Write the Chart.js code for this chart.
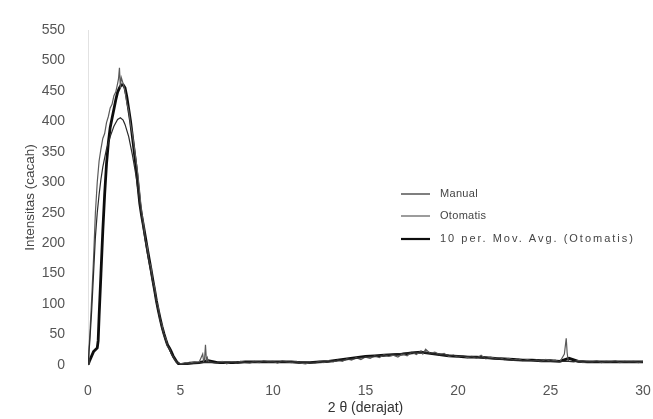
<!DOCTYPE html>
<html>
<head>
<meta charset="utf-8">
<script src="https://cdn.jsdelivr.net/npm/chart.js@4/dist/chart.umd.min.js"></script>
<style>
  html, body { margin: 0; padding: 0; background: #fff; }
  #wrap { width: 653px; height: 419px; }
</style>
</head>
<body>
<div id="wrap"><canvas id="c" width="653" height="419"></canvas></div>
<script>
// ---- data ----
const seriesNames = ["Manual", "Otomatis", "10 per. Mov. Avg. (Otomatis)"];
const xTitle = "2 θ (derajat)";
const yTitle = "Intensitas (cacah)";

const manualX = [0,0.1,0.2,0.3,0.4,0.5,0.6,0.7,0.8,0.9,1.0,1.2,1.4,1.6,1.75,1.9,2.0,2.2,2.4,2.6,2.8,3.0,3.2,3.4,3.6,3.8,4.0,4.2,4.4,4.6,4.8,5.0,5.5,6,7,8,9,10,11,12,13,14,15,16,17,18,19,20,21,22,23,24,25,26,27,28,29,30];
const manualY = [0,40,90,150,210,250,280,305,325,340,355,375,392,403,406,402,395,375,345,310,265,222,185,152,120,88,60,40,25,13,5,1,2,4,4,4,5,5,5,4,6,9,13,16,19,21,17,15,13,10,8,7,6,6,5,5,5,5];

const otoX = [0,0.05,0.1,0.2,0.3,0.4,0.5,0.6,0.7,0.8,0.9,1.0,1.1,1.2,1.3,1.4,1.5,1.6,1.65,1.7,1.75,1.8,1.9,2.0,2.1,2.2,2.3,2.4,2.5,2.6,2.7,2.8,2.9,3.0,3.1,3.2,3.3,3.4,3.5,3.6,3.7,3.8,3.9,4.0,4.1,4.2,4.3,4.4,4.5,4.6,4.7,4.8,4.9,5.0,5.25,5.5,5.75,6,6.2,6.25,6.3,6.35,6.4,6.45,6.5,6.75,7,7.25,7.5,7.75,8,8.25,8.5,8.75,9,9.25,9.5,9.75,10,10.25,10.5,10.75,11,11.25,11.5,11.75,12,12.25,12.5,12.75,13,13.25,13.5,13.75,14,14.25,14.5,14.75,15,15.25,15.5,15.75,16,16.25,16.5,16.75,17,17.25,17.5,17.75,18,18.1,18.25,18.5,18.75,19,19.25,19.5,19.75,20,20.25,20.5,20.75,21,21.25,21.5,21.75,22,22.25,22.5,22.75,23,23.25,23.5,23.75,24,24.25,24.5,24.75,25,25.25,25.5,25.75,25.85,25.9,25.95,26,26.25,26.5,26.75,27,27.25,27.5,27.75,28,28.25,28.5,28.75,29,29.25,29.5,29.75,30];
const otoY = [0,25,50,110,175,250,300,335,355,372,380,398,408,422,428,442,448,462,470,488,455,472,462,450,430,418,395,380,358,335,312,282,250,232,205,195,170,162,138,128,104,94,74,66,50,44,31,27,18,14,8,5,3,2,4,3,5,4,18,6,9,33,8,12,5,4,3,6,2,5,3,6,4,3,6,4,7,5,6,3,7,5,4,6,3,2,4,3,6,4,7,5,8,6,10,8,12,9,13,11,15,12,17,14,16,13,18,15,21,17,23,18,26,19,21,17,19,14,16,13,15,12,14,11,16,10,13,11,12,9,11,8,10,7,9,7,8,6,9,6,8,5,18,44,20,8,6,5,7,4,6,5,7,4,6,5,7,4,6,5,6,4,6];

const avgX = [0,0.1,0.2,0.3,0.4,0.5,0.55,0.6,0.7,0.8,0.9,1.0,1.1,1.2,1.3,1.4,1.5,1.6,1.7,1.8,1.9,2.0,2.1,2.2,2.3,2.4,2.5,2.6,2.7,2.8,2.9,3.0,3.1,3.2,3.3,3.4,3.5,3.6,3.7,3.8,3.9,4.0,4.1,4.2,4.3,4.4,4.5,4.6,4.7,4.8,4.9,5.0,5.5,6,6.5,7,7.5,8,8.5,9,9.5,10,10.5,11,11.5,12,12.5,13,13.5,14,14.5,15,15.5,16,16.5,17,17.5,18,18.5,19,19.5,20,20.5,21,21.5,22,22.5,23,23.5,24,24.5,25,25.5,26,26.5,27,27.5,28,28.5,29,29.5,30];
const avgY = [0,8,15,22,25,28,40,80,150,220,280,330,365,390,405,420,435,448,455,460,460,455,440,420,400,375,350,325,295,265,245,228,210,192,175,158,140,123,105,90,76,63,52,42,33,28,22,15,10,5,2,0,3,4,7,4,4,4,5,5,5,5,5,5,4,4,5,6,8,10,12,14,15,16,17,18,20,21,19,17,15,14,13,13,12,11,10,9,8,8,7,7,6,11,6,5,5,5,5,5,5,5,5];

const xTicks = [0,5,10,15,20,25,30];
const yTicks = [0,50,100,150,200,250,300,350,400,450,500,550];

const seriesColors = ["#2a2a2a", "#5a5a5a", "#0d0d0d"];
const seriesWidths = [1.2, 1.2, 2.8];

function pts(xs, ys) { return xs.map((x, i) => ({ x: x, y: ys[i] })); }

const legendPlugin = {
  id: 'customLegend',
  afterDraw(chart) {
    const ctx = chart.ctx;
    const rows = [194, 216, 239];
    const spacing = ['0.3px', '0.3px', '2px'];
    ctx.save();
    ctx.font = '11px "Liberation Sans", Arial, sans-serif';
    ctx.textBaseline = 'middle';
    ctx.fillStyle = '#444';
    seriesNames.forEach((n, i) => {
      ctx.beginPath();
      ctx.strokeStyle = seriesColors[i];
      ctx.lineWidth = i === 2 ? 2.2 : 1.2;
      ctx.moveTo(401, rows[i]);
      ctx.lineTo(430, rows[i]);
      ctx.stroke();
      ctx.letterSpacing = spacing[i];
      ctx.fillText(n, 440, rows[i]);
    });
    ctx.restore();
  }
};

const tickFont = { family: '"Liberation Sans", Arial, sans-serif', size: 14 };

new Chart(document.getElementById('c'), {
  type: 'scatter',
  data: {
    datasets: [
      { label: seriesNames[0], data: pts(manualX, manualY), showLine: true, borderColor: seriesColors[0], borderWidth: seriesWidths[0], pointRadius: 0, tension: 0 },
      { label: seriesNames[1], data: pts(otoX, otoY), showLine: true, borderColor: seriesColors[1], borderWidth: seriesWidths[1], pointRadius: 0, tension: 0 },
      { label: seriesNames[2], data: pts(avgX, avgY), showLine: true, borderColor: seriesColors[2], borderWidth: seriesWidths[2], pointRadius: 0, tension: 0 }
    ]
  },
  options: {
    responsive: false,
    animation: false,
    layout: { padding: { top: 30, right: 10, left: 0, bottom: 0 } },
    plugins: { legend: { display: false }, tooltip: { enabled: false } },
    scales: {
      x: {
        type: 'linear', min: 0, max: 30,
        afterBuildTicks(s) { s.ticks = xTicks.map(v => ({ value: v })); },
        afterFit(s) { s.height = 54; s.paddingRight = 0; s.paddingLeft = 0; },
        grid: { display: false },
        border: { display: false },
        ticks: { color: '#555', font: tickFont, padding: 10, maxRotation: 0 },
        title: { display: true, text: xTitle, color: '#333', font: { family: '"Liberation Sans", Arial, sans-serif', size: 14 }, padding: { top: 2, bottom: 2 } }
      },
      y: {
        min: 0, max: 550,
        afterBuildTicks(s) { s.ticks = yTicks.map(v => ({ value: v })); },
        afterFit(s) { s.width = 88; },
        grid: { display: false },
        border: { display: true, color: '#e2e2e2', width: 1 },
        ticks: { color: '#555', font: tickFont, padding: 15 },
        title: { display: true, text: yTitle, color: '#444', font: { family: '"Liberation Sans", Arial, sans-serif', size: 13.5 }, padding: { top: 22, bottom: 0 } }
      }
    }
  },
  plugins: [legendPlugin]
});
</script>
</body>
</html>
